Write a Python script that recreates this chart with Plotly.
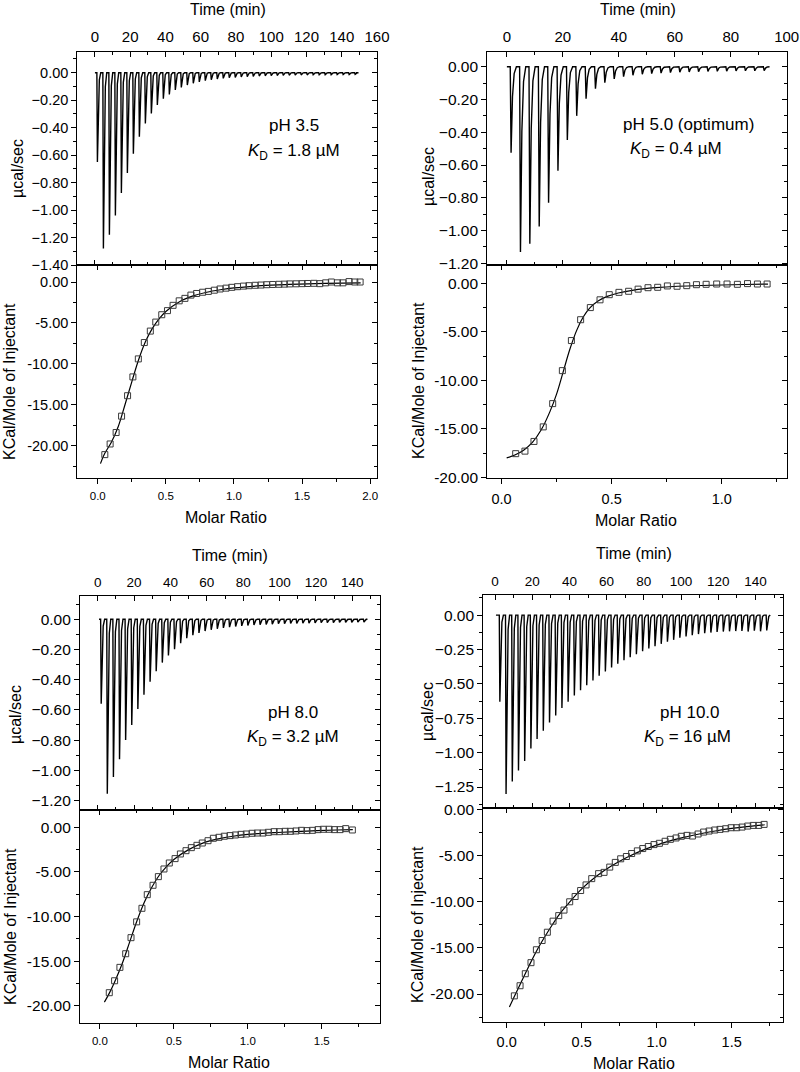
import plotly.graph_objects as go

W, H = 800, 1072
FONT = "Arial, 'Liberation Sans', Helvetica, sans-serif"

# ---------------- Panel A : pH 3.5 ----------------
A_time_start = 0.0
A_time_first = 1.1
A_time_step = 3.4
A_time_end = 148.0
A_peaks = [-0.65, -1.28, -1.18, -1.04, -0.875, -0.73, -0.59, -0.466, -0.37, -0.296,
           -0.235, -0.19, -0.158, -0.126, -0.107, -0.09, -0.077, -0.067, -0.058, -0.051,
           -0.046, -0.041, -0.037, -0.034, -0.031, -0.028, -0.026, -0.024, -0.022, -0.021,
           -0.02, -0.019, -0.018, -0.017, -0.016, -0.016, -0.015, -0.015, -0.014, -0.014,
           -0.013, -0.013, -0.013, -0.012]
A_ratio = [0.052, 0.091, 0.135, 0.175, 0.219, 0.258, 0.298, 0.342, 0.386, 0.426,
           0.470, 0.512, 0.553, 0.598, 0.640, 0.684, 0.726, 0.770, 0.812, 0.856,
           0.898, 0.942, 0.984, 1.026, 1.07, 1.11, 1.156, 1.198, 1.24, 1.284,
           1.33, 1.37, 1.41, 1.456, 1.5, 1.54, 1.587, 1.63, 1.673, 1.715,
           1.76, 1.80, 1.845, 1.887, 1.926]
A_heat = [-21.1, -19.8, -18.4, -16.4, -13.9, -11.6, -9.4, -7.4, -6.0, -4.9,
          -4.0, -3.5, -2.85, -2.3, -2.0, -1.6, -1.4, -1.25, -1.15, -1.0,
          -0.85, -0.75, -0.65, -0.57, -0.5, -0.45, -0.4, -0.37, -0.33, -0.3,
          -0.28, -0.26, -0.23, -0.22, -0.2, -0.18, -0.16, -0.2, -0.1, 0.0,
          -0.1, -0.1, 0.05, 0.0, 0.0]
A_fit_ratio = [0.02, 0.05, 0.1, 0.15, 0.2, 0.25, 0.3, 0.35, 0.4, 0.45, 0.5, 0.6, 0.7,
               0.8, 0.9, 1.0, 1.2, 1.4, 1.6, 1.8, 1.93]
A_fit_heat = [-22.2, -21.0, -19.6, -17.7, -15.0, -12.2, -9.5, -7.3, -5.7, -4.5, -3.6, -2.4,
              -1.7, -1.25, -0.95, -0.72, -0.45, -0.3, -0.2, -0.13, -0.1]

# ---------------- Panel B : pH 5.0 ----------------
B_time_start = 0.0
B_time_first = 1.2
B_time_step = 3.35
B_time_end = 93.5
B_peaks = [-0.525, -1.13, -1.08, -0.975, -0.83, -0.635, -0.447, -0.30, -0.195, -0.134,
           -0.098, -0.075, -0.061, -0.052, -0.046, -0.042, -0.039, -0.036, -0.034, -0.032,
           -0.03, -0.029, -0.028, -0.027, -0.026, -0.025, -0.025, -0.024]
B_ratio = [0.064, 0.106, 0.147, 0.189, 0.232, 0.276, 0.317, 0.359, 0.403, 0.447,
           0.489, 0.533, 0.577, 0.62, 0.665, 0.709, 0.753, 0.797, 0.841, 0.885,
           0.929, 0.977, 1.024, 1.071, 1.117, 1.162, 1.206]
B_heat = [-17.56, -17.3, -16.3, -14.8, -12.4, -9.0, -5.9, -3.75, -2.5, -1.7,
          -1.17, -0.93, -0.82, -0.6, -0.45, -0.41, -0.27, -0.3, -0.24, -0.14,
          -0.1, -0.07, -0.07, -0.1, -0.03, -0.07, -0.07]
B_fit_ratio = [0.023, 0.06, 0.1, 0.14, 0.18, 0.22, 0.25, 0.28, 0.31, 0.34, 0.37, 0.40,
               0.44, 0.48, 0.53, 0.6, 0.7, 0.8, 0.95, 1.1, 1.21]
B_fit_heat = [-18.0, -17.7, -17.2, -16.4, -15.1, -13.2, -11.4, -9.1, -6.8, -4.9, -3.5,
              -2.55, -1.8, -1.35, -1.0, -0.7, -0.45, -0.3, -0.2, -0.12, -0.08]

# ---------------- Panel C : pH 8.0 ----------------
C_time_start = 0.7
C_time_first = 1.6
C_time_step = 3.36
C_time_end = 147.5
C_peaks = [-0.56, -1.155, -1.045, -0.927, -0.80, -0.70, -0.594, -0.50, -0.413, -0.344,
           -0.287, -0.24, -0.199, -0.159, -0.126, -0.105, -0.09, -0.078, -0.07, -0.063,
           -0.057, -0.052, -0.048, -0.044, -0.041, -0.038, -0.036, -0.034, -0.032, -0.030,
           -0.029, -0.028, -0.027, -0.026, -0.025, -0.024, -0.023, -0.022, -0.022, -0.021,
           -0.02, -0.02, -0.019, -0.019]
C_ratio = [0.063, 0.099, 0.135, 0.174, 0.21, 0.248, 0.284, 0.32, 0.359, 0.395,
           0.433, 0.469, 0.508, 0.544, 0.582, 0.618, 0.656, 0.692, 0.731, 0.767,
           0.805, 0.841, 0.88, 0.916, 0.954, 0.99, 1.029, 1.065, 1.103, 1.139,
           1.178, 1.214, 1.252, 1.288, 1.326, 1.363, 1.40, 1.437, 1.475, 1.511,
           1.55, 1.586, 1.624, 1.662, 1.707]
C_heat = [-18.54, -17.2, -15.7, -14.17, -12.37, -10.6, -9.08, -7.55, -6.5, -5.53,
          -4.67, -4.0, -3.51, -2.99, -2.62, -2.28, -2.02, -1.76, -1.5, -1.23,
          -1.12, -1.0, -0.93, -0.86, -0.79, -0.75, -0.67, -0.64, -0.64, -0.56,
          -0.49, -0.49, -0.45, -0.45, -0.41, -0.34, -0.37, -0.34, -0.26, -0.22,
          -0.22, -0.26, -0.26, -0.15, -0.3]
C_fit_ratio = [0.03, 0.06, 0.1, 0.15, 0.2, 0.25, 0.3, 0.35, 0.4, 0.45, 0.5, 0.6, 0.7,
               0.8, 0.9, 1.0, 1.2, 1.4, 1.6, 1.71]
C_fit_heat = [-19.6, -18.7, -17.3, -15.3, -12.9, -10.5, -8.4, -6.75, -5.4, -4.4, -3.6,
              -2.5, -1.75, -1.3, -1.0, -0.8, -0.58, -0.42, -0.3, -0.25]

# ---------------- Panel D : pH 10.0 ----------------
D_time_start = 0.5
D_time_first = 2.3
D_time_step = 3.337
D_time_end = 148.0
D_peaks = [-0.63, -1.30, -1.21, -1.13, -1.06, -0.97, -0.90, -0.84, -0.78, -0.73,
           -0.675, -0.63, -0.585, -0.546, -0.51, -0.475, -0.44, -0.41, -0.38, -0.354,
           -0.328, -0.306, -0.284, -0.262, -0.243, -0.226, -0.209, -0.194, -0.18, -0.165,
           -0.155, -0.146, -0.138, -0.132, -0.127, -0.123, -0.12, -0.118, -0.116, -0.115,
           -0.12, -0.113, -0.118, -0.112]
D_ratio = [0.051, 0.089, 0.124, 0.162, 0.198, 0.236, 0.271, 0.309, 0.347, 0.382,
           0.42, 0.456, 0.493, 0.529, 0.567, 0.613, 0.649, 0.687, 0.724, 0.76,
           0.798, 0.833, 0.871, 0.907, 0.944, 0.982, 1.018, 1.056, 1.091, 1.129,
           1.164, 1.202, 1.238, 1.276, 1.313, 1.349, 1.387, 1.422, 1.46, 1.496,
           1.533, 1.569, 1.607, 1.644, 1.68, 1.716]
D_heat = [-20.2, -19.1, -17.8, -16.6, -15.2, -14.2, -13.3, -12.1, -11.5, -10.9,
          -10.0, -9.43, -8.78, -8.17, -7.49, -6.95, -6.81, -6.24, -5.73, -5.34,
          -5.09, -4.77, -4.48, -4.23, -4.01, -3.8, -3.66, -3.44, -3.23, -3.08,
          -2.9, -2.8, -2.87, -2.65, -2.44, -2.33, -2.22, -2.15, -2.08, -1.97,
          -1.97, -1.9, -1.79, -1.72, -1.72, -1.61]
D_fit_ratio = [0.018, 0.05, 0.1, 0.15, 0.2, 0.25, 0.3, 0.35, 0.4, 0.5, 0.6, 0.7, 0.8,
               0.9, 1.0, 1.1, 1.2, 1.3, 1.4, 1.5, 1.6, 1.72]
D_fit_heat = [-21.4, -20.3, -18.6, -16.9, -15.3, -13.9, -12.6, -11.4, -10.4, -8.6, -7.2,
              -6.1, -5.2, -4.45, -3.85, -3.35, -2.95, -2.6, -2.3, -2.05, -1.85, -1.65]

# ---------------- text ----------------
TIME_TITLE = "Time (min)"
RAW_TITLE = "µcal/sec"
HEAT_TITLE = "KCal/Mole of Injectant"
RATIO_TITLE = "Molar Ratio"
CONDITIONS = ["pH 3.5", "pH 5.0 (optimum)", "pH 8.0", "pH 10.0"]
KD_TEXT = ["<i>K</i><sub>D</sub> = 1.8 µM", "<i>K</i><sub>D</sub> = 0.4 µM",
           "<i>K</i><sub>D</sub> = 3.2 µM", "<i>K</i><sub>D</sub> = 16 µM"]

# shape of one injection peak (offset in min, fraction of peak depth)
PEAK_SHAPE = [(0.0, 0.0), (0.3, 1.0), (0.8, 0.35), (1.4, 0.08), (2.2, 0.0)]


def thermogram(start, first, step, end, depths):
    xs, ys = [start], [0.0]
    for i, d in enumerate(depths):
        t0 = first + i * step
        for dt, f in PEAK_SHAPE:
            xs.append(t0 + dt)
            ys.append(d * f)
    xs.append(end)
    ys.append(0.0)
    return xs, ys


# ---------------- layout (pixel geometry) ----------------
panels = [
    dict(raw=(A_time_start, A_time_first, A_time_step, A_time_end, A_peaks),
         ratio=A_ratio, heat=A_heat, fr=A_fit_ratio, fh=A_fit_heat,
         bx=(77.3, 377.0), ty=(51.7, 265.0), by=(265.0, 478.0),
         trange=[-10, 160], rawrange=[-1.40, 0.153], rawdtick=0.2,
         rrange=[-0.15, 2.05], hrange=[-23.96, 2.08],
         tfs=15, yfs=14.5, xfs=11.5,
         time_title=(228, 10), raw_title=(17, 169), heat_title=(9, 382), ratio_title=(226, 518),
         cond=(294, 126), kd=(294, 152)),
    dict(raw=(B_time_start, B_time_first, B_time_step, B_time_end, B_peaks),
         ratio=B_ratio, heat=B_heat, fr=B_fit_ratio, fh=B_fit_heat,
         bx=(487.3, 786.7), ty=(51.7, 265.0), by=(265.0, 478.3),
         trange=[-7, 100], rawrange=[-1.21, 0.0915], rawdtick=0.2,
         rrange=[-0.065, 1.295], hrange=[-20.1, 1.89],
         tfs=15, yfs=15.5, xfs=14.5,
         time_title=(638, 10), raw_title=(428, 177), heat_title=(418, 381), ratio_title=(636, 520),
         cond=(688, 125), kd=(676, 150)),
    dict(raw=(C_time_start, C_time_first, C_time_step, C_time_end, C_peaks),
         ratio=C_ratio, heat=C_heat, fr=C_fit_ratio, fh=C_fit_heat,
         bx=(80.0, 380.0), ty=(596.0, 810.0), by=(810.0, 1023.3),
         trange=[-9.75, 155.2], rawrange=[-1.263, 0.154], rawdtick=0.2,
         rrange=[-0.135, 1.894], hrange=[-21.97, 1.94],
         tfs=13.5, yfs=15.5, xfs=11.5,
         time_title=(230, 555), raw_title=(15, 715), heat_title=(10, 927), ratio_title=(229, 1062),
         cond=(293, 712), kd=(293, 738)),
    dict(raw=(D_time_start, D_time_first, D_time_step, D_time_end, D_peaks),
         ratio=D_ratio, heat=D_heat, fr=D_fit_ratio, fh=D_fit_heat,
         bx=(483.3, 783.3), ty=(595.0, 807.7), by=(807.7, 1021.7),
         trange=[-6.3, 155], rawrange=[-1.40, 0.146], rawdtick=0.25,
         rrange=[-0.156, 1.844], hrange=[-23.0, 0.2],
         tfs=13.5, yfs=15.5, xfs=14.5,
         time_title=(634, 553), raw_title=(427, 711), heat_title=(417, 925), ratio_title=(634, 1063),
         cond=(690, 712), kd=(687, 738)),
]


def px_x(p):
    return p / W


def px_y(p):
    return 1 - p / H


def aname(kind, n):
    return kind + "axis" + ("" if n == 1 else str(n))


def aref(kind, n):
    return kind + ("" if n == 1 else str(n))


BASE = dict(showgrid=False, zeroline=False, showline=True, linecolor="black", linewidth=1.2,
            tickcolor="black", tickwidth=1.1, ticklen=5, automargin=False,
            ticklabeloverflow="allow")

fig = go.Figure()
layout = dict(template="none", width=W, height=H, autosize=False,
              margin=dict(l=0, r=0, t=0, b=0, pad=0),
              paper_bgcolor="white", plot_bgcolor="rgba(0,0,0,0)", showlegend=False,
              font=dict(family=FONT, color="black"))
annotations = []
counter = {"x": 0, "y": 0}


def new(kind):
    counter[kind] += 1
    return counter[kind]


def empty_trace(xa, ya):
    fig.add_trace(go.Scatter(x=[None], y=[None], mode="lines", xaxis=aref("x", xa),
                             yaxis=aref("y", ya), hoverinfo="skip", showlegend=False))


def minor(ticks, dtick):
    return dict(ticks=ticks, ticklen=3, tickcolor="black", tickwidth=1, dtick=dtick, tick0=0)


def ann(text, pos, size, angle=0):
    annotations.append(dict(text=text, x=px_x(pos[0]), y=px_y(pos[1]), xref="paper",
                            yref="paper", showarrow=False, textangle=angle,
                            xanchor="center", yanchor="middle",
                            font=dict(family=FONT, size=size, color="black")))


for i, p in enumerate(panels):
    xt, yt = new("x"), new("y")
    yt_r = new("y")
    xb, yb = new("x"), new("y")
    xb_t = new("x")
    yb_r = new("y")
    dx = [px_x(p["bx"][0]), px_x(p["bx"][1])]
    dty = [px_y(p["ty"][1]), px_y(p["ty"][0])]
    dby = [px_y(p["by"][1]), px_y(p["by"][0])]
    rd = p["rawdtick"]

    # ---- top: raw thermogram ----
    layout[aname("x", xt)] = dict(BASE, domain=dx, anchor=aref("y", yt), side="top",
                                  range=p["trange"], dtick=20, tick0=0, ticks="inside",
                                  mirror="ticks", minor=minor("inside", 10),
                                  tickfont=dict(size=p["tfs"]), ticklabelstandoff=3)
    layout[aname("y", yt)] = dict(BASE, domain=dty, anchor=aref("x", xt), side="left",
                                  range=p["rawrange"], dtick=rd, tick0=0, tickformat=".2f",
                                  ticks="outside", mirror=True, minor=minor("outside", rd / 2),
                                  tickfont=dict(size=p["yfs"]))
    layout[aname("y", yt_r)] = dict(BASE, overlaying=aref("y", yt), anchor=aref("x", xt),
                                    side="right", range=p["rawrange"], dtick=rd, tick0=0,
                                    ticks="inside", showline=False, showticklabels=False,
                                    minor=minor("inside", rd / 2))
    tx, ty_ = thermogram(*p["raw"])
    fig.add_trace(go.Scatter(x=tx, y=ty_, mode="lines", line=dict(color="black", width=1.4),
                             xaxis=aref("x", xt), yaxis=aref("y", yt), hoverinfo="skip"))
    empty_trace(xt, yt_r)

    # ---- bottom: integrated heats ----
    layout[aname("x", xb)] = dict(BASE, domain=dx, anchor=aref("y", yb), side="bottom",
                                  range=p["rrange"], dtick=0.5, tick0=0, tickformat=".1f",
                                  ticks="outside", mirror=True, minor=minor("outside", 0.25),
                                  tickfont=dict(size=p["xfs"]), ticklabelstandoff=2)
    layout[aname("x", xb_t)] = dict(BASE, overlaying=aref("x", xb), anchor=aref("y", yb),
                                    side="top", range=p["rrange"], dtick=0.5, tick0=0,
                                    ticks="inside", showline=False, showticklabels=False,
                                    minor=minor("inside", 0.25))
    layout[aname("y", yb)] = dict(BASE, domain=dby, anchor=aref("x", xb), side="left",
                                  range=p["hrange"], tickmode="array",
                                  tickvals=[0, -5, -10, -15, -20],
                                  ticktext=["0.00", "-5.00", "-10.00", "-15.00", "-20.00"],
                                  ticks="outside", mirror=True, minor=minor("outside", 2.5),
                                  tickfont=dict(size=p["yfs"]))
    layout[aname("y", yb_r)] = dict(BASE, overlaying=aref("y", yb), anchor=aref("x", xb),
                                    side="right", range=p["hrange"], dtick=5, tick0=0,
                                    ticks="inside", showline=False, showticklabels=False,
                                    minor=minor("inside", 2.5))
    fig.add_trace(go.Scatter(x=p["fr"], y=p["fh"], mode="lines", line_shape="spline",
                             line=dict(color="black", width=1.2),
                             xaxis=aref("x", xb), yaxis=aref("y", yb), hoverinfo="skip"))
    fig.add_trace(go.Scatter(x=p["ratio"], y=p["heat"], mode="markers",
                             marker=dict(symbol="square-open", size=6, color="#3a3a3a",
                                         line=dict(width=1)),
                             xaxis=aref("x", xb), yaxis=aref("y", yb), hoverinfo="skip"))
    empty_trace(xb_t, yb)
    empty_trace(xb, yb_r)

    # ---- titles & labels ----
    ann(TIME_TITLE, p["time_title"], 16)
    ann(RAW_TITLE, p["raw_title"], 16, -90)
    ann(HEAT_TITLE, p["heat_title"], 16, -90)
    ann(RATIO_TITLE, p["ratio_title"], 16)
    ann(CONDITIONS[i], p["cond"], 17)
    ann(KD_TEXT[i], p["kd"], 17)

layout["annotations"] = annotations
fig.update_layout(**layout)
fig.write_html("out.html", config={"displayModeBar": False},
               post_script="document.body.style.margin='0';")
